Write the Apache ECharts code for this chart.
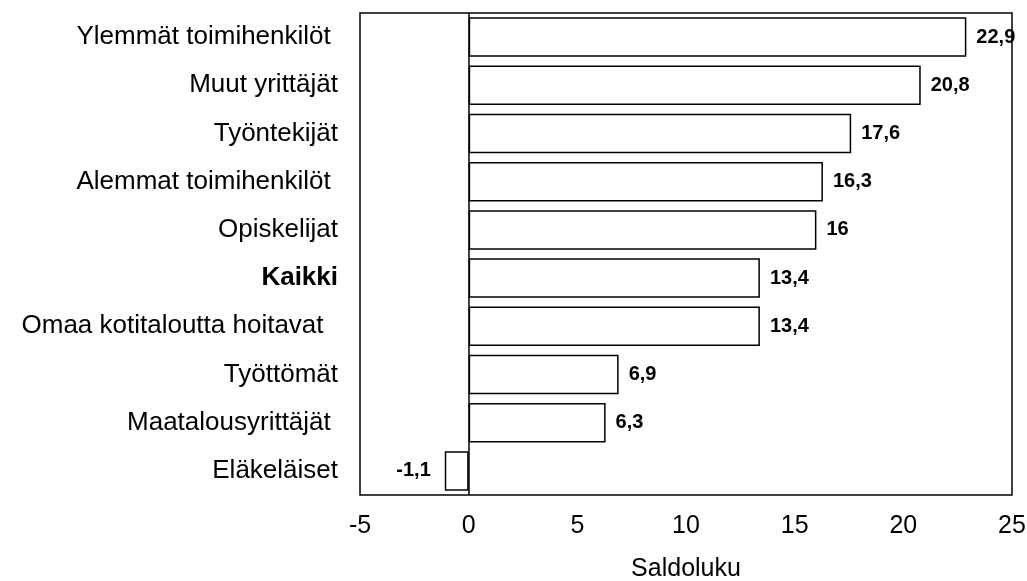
<!DOCTYPE html>
<html>
<head>
<meta charset="utf-8">
<script src="https://cdn.jsdelivr.net/npm/echarts@6/dist/echarts.min.js"></script>
<style>
  html, body { margin: 0; padding: 0; background: #fff; }
  #chart { width: 1027px; height: 581px; }
</style>
</head>
<body>
<div id="chart"></div>
<script>
  // kategoriat ylhäältä alas
  var categories = ['Ylemmät toimihenkilöt ', 'Muut yrittäjät', 'Työntekijät', 'Alemmat toimihenkilöt ',
    'Opiskelijat', 'Kaikki', 'Omaa kotitaloutta hoitavat  ', 'Työttömät', 'Maatalousyrittäjät ', 'Eläkeläiset'];
  // saldoluvut
  var values = [22.9, 20.8, 17.6, 16.3, 16, 13.4, 13.4, 6.9, 6.3, -1.1];
  var xTicks = [-5, 0, 5, 10, 15, 20, 25];

  var font = '"Liberation Sans", Arial, sans-serif';

  var chart = echarts.init(document.getElementById('chart'));
  chart.setOption({
    backgroundColor: '#fff',
    animation: false,
    grid: {
      left: 360, right: 15, top: 13, bottom: 86,
      outerBoundsMode: 'none',
      containLabel: false,
      show: true, borderColor: '#000', borderWidth: 1.5, backgroundColor: '#fff'
    },
    xAxis: {
      type: 'value',
      min: xTicks[0],
      max: xTicks[xTicks.length - 1],
      interval: 5,
      name: 'Saldoluku',
      nameLocation: 'middle',
      nameGap: 62,
      nameTextStyle: { fontSize: 25, color: '#000', fontFamily: font },
      axisLine: { show: false },
      axisTick: { show: false },
      splitLine: { show: false },
      axisLabel: { fontSize: 25, color: '#000', fontFamily: font, margin: 19 }
    },
    yAxis: {
      type: 'category',
      data: categories,
      inverse: true,
      axisLine: { show: false, onZero: false },
      axisTick: { show: false },
      axisLabel: {
        fontSize: 26, color: '#000', fontFamily: font, margin: 22,
        formatter: function (v) {
          return v === 'Kaikki' ? '{b|' + v + '}' : v;
        },
        rich: { b: { fontSize: 26, fontWeight: 'bold', color: '#000', fontFamily: font } }
      }
    },
    series: [{
      type: 'bar',
      barCategoryGap: '18%',
      data: values.map(function (v) {
        return { value: v, label: { position: v < 0 ? 'left' : 'right', distance: v < 0 ? 14 : 10 } };
      }),
      itemStyle: { color: '#fff', borderColor: '#000', borderWidth: 1.5 },
      label: {
        show: true,
        fontSize: 20, fontWeight: 'bold', color: '#000', fontFamily: font,
        formatter: function (p) { return String(p.value).replace('.', ','); }
      },
      markLine: {
        silent: true,
        symbol: 'none',
        label: { show: false },
        lineStyle: { color: '#000', width: 1.5, type: 'solid' },
        data: [{ xAxis: 0 }]
      }
    }]
  });
</script>
</body>
</html>
